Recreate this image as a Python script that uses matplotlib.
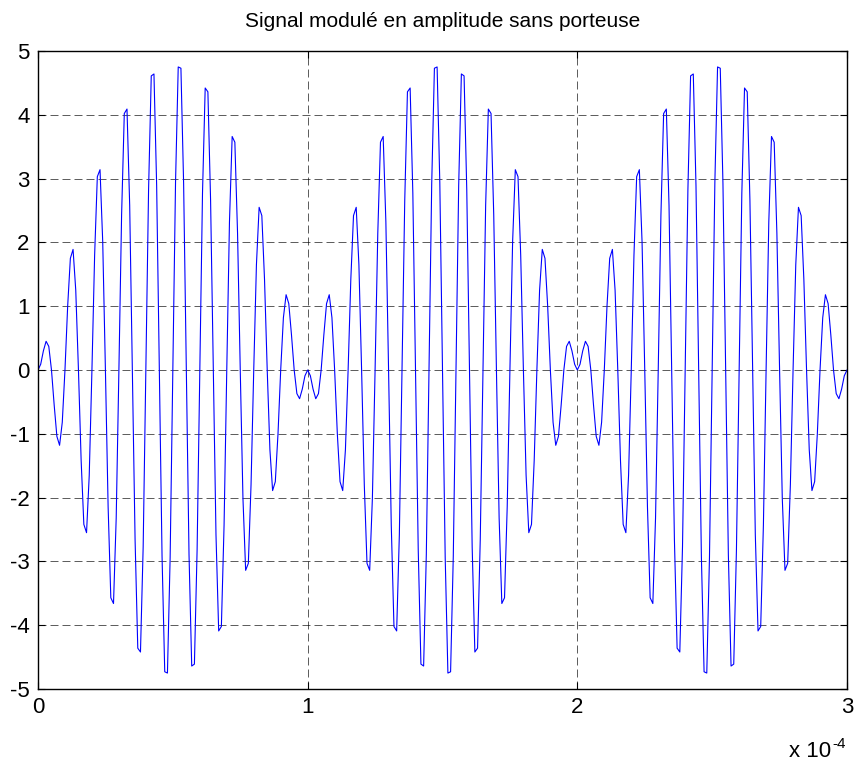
import numpy as np
import matplotlib
matplotlib.use('Agg')
import matplotlib.pyplot as plt
from matplotlib.ticker import FuncFormatter

plt.rcParams['font.family'] = ['Liberation Sans', 'DejaVu Sans']

# samples of the DSB-SC signal, one row per carrier period (10 samples)
sample_period = 1e-6
amplitude = [
    0.00, 0.09, 0.30, 0.45, 0.37, 0.00, -0.55, -1.04, -1.18, -0.82,
    0.00, 1.00, 1.75, 1.89, 1.25, 0.00, -1.42, -2.42, -2.55, -1.65,
    0.00, 1.80, 3.03, 3.14, 2.01, 0.00, -2.14, -3.57, -3.66, -2.32,
    0.00, 2.43, 4.02, 4.09, 2.58, 0.00, -2.66, -4.36, -4.42, -2.77,
    0.00, 2.82, 4.61, 4.64, 2.89, 0.00, -2.92, -4.73, -4.75, -2.94,
    0.00, 2.94, 4.75, 4.73, 2.92, 0.00, -2.89, -4.64, -4.61, -2.82,
    0.00, 2.77, 4.42, 4.36, 2.66, 0.00, -2.58, -4.09, -4.02, -2.43,
    0.00, 2.32, 3.66, 3.57, 2.14, 0.00, -2.01, -3.14, -3.03, -1.80,
    0.00, 1.65, 2.55, 2.42, 1.42, 0.00, -1.25, -1.89, -1.75, -1.00,
    0.00, 0.82, 1.18, 1.04, 0.55, 0.00, -0.37, -0.45, -0.30, -0.09,
    0.00, -0.09, -0.30, -0.45, -0.37, 0.00, 0.55, 1.04, 1.18, 0.82,
    0.00, -1.00, -1.75, -1.89, -1.25, 0.00, 1.42, 2.42, 2.55, 1.65,
    0.00, -1.80, -3.03, -3.14, -2.01, 0.00, 2.14, 3.57, 3.66, 2.32,
    0.00, -2.43, -4.02, -4.09, -2.58, 0.00, 2.66, 4.36, 4.42, 2.77,
    0.00, -2.82, -4.61, -4.64, -2.89, 0.00, 2.92, 4.73, 4.75, 2.94,
    0.00, -2.94, -4.75, -4.73, -2.92, 0.00, 2.89, 4.64, 4.61, 2.82,
    0.00, -2.77, -4.42, -4.36, -2.66, 0.00, 2.58, 4.09, 4.02, 2.43,
    0.00, -2.32, -3.66, -3.57, -2.14, 0.00, 2.01, 3.14, 3.03, 1.80,
    0.00, -1.65, -2.55, -2.42, -1.42, 0.00, 1.25, 1.89, 1.75, 1.00,
    0.00, -0.82, -1.18, -1.04, -0.55, 0.00, 0.37, 0.45, 0.30, 0.09,
    0.00, 0.09, 0.30, 0.45, 0.37, 0.00, -0.55, -1.04, -1.18, -0.82,
    0.00, 1.00, 1.75, 1.89, 1.25, 0.00, -1.42, -2.42, -2.55, -1.65,
    0.00, 1.80, 3.03, 3.14, 2.01, 0.00, -2.14, -3.57, -3.66, -2.32,
    0.00, 2.43, 4.02, 4.09, 2.58, 0.00, -2.66, -4.36, -4.42, -2.77,
    0.00, 2.82, 4.61, 4.64, 2.89, 0.00, -2.92, -4.73, -4.75, -2.94,
    0.00, 2.94, 4.75, 4.73, 2.92, 0.00, -2.89, -4.64, -4.61, -2.82,
    0.00, 2.77, 4.42, 4.36, 2.66, 0.00, -2.58, -4.09, -4.02, -2.43,
    0.00, 2.32, 3.66, 3.57, 2.14, 0.00, -2.01, -3.14, -3.03, -1.80,
    0.00, 1.65, 2.55, 2.42, 1.42, 0.00, -1.25, -1.89, -1.75, -1.00,
    0.00, 0.82, 1.18, 1.04, 0.55, 0.00, -0.37, -0.45, -0.30, -0.09,
    0.00,
]
t = np.arange(len(amplitude)) * sample_period

x_ticks = [0, 1e-4, 2e-4, 3e-4]
y_ticks = [-5, -4, -3, -2, -1, 0, 1, 2, 3, 4, 5]

fig = plt.figure(figsize=(8.55, 7.64), dpi=100)
ax = fig.add_axes([38 / 855, 1 - 689 / 764, (847 - 38) / 855, (689 - 51) / 764])

ax.plot(t, amplitude, color='blue', linewidth=0.8)

ax.set_xlim(0, 3e-4)
ax.set_ylim(-5, 5)
ax.set_xticks(x_ticks)
ax.set_yticks(y_ticks)
ax.xaxis.set_major_formatter(FuncFormatter(lambda v, p: '%g' % round(v * 1e4, 6)))
ax.yaxis.set_major_formatter(FuncFormatter(lambda v, p: '%g' % v))
ax.tick_params(direction='in', top=True, right=True, labelsize=16, length=5, width=0.8, pad=6)
ax.grid(True, color='black', linestyle=(0, (9.6, 4.8)), linewidth=0.6, alpha=0.75)
for s in ax.spines.values():
    s.set_linewidth(1.0)

ax.set_title('Signal modulé en amplitude sans porteuse', fontsize=15, pad=17)

# MATLAB style exponent label under the x axis
fig.text(831 / 855, 1 - 757 / 764, 'x 10', ha='right', va='baseline', fontsize=16)
fig.text(846 / 855, 1 - 748 / 764, '-4', ha='right', va='baseline', fontsize=11)

fig.savefig('out.png', dpi=100)
